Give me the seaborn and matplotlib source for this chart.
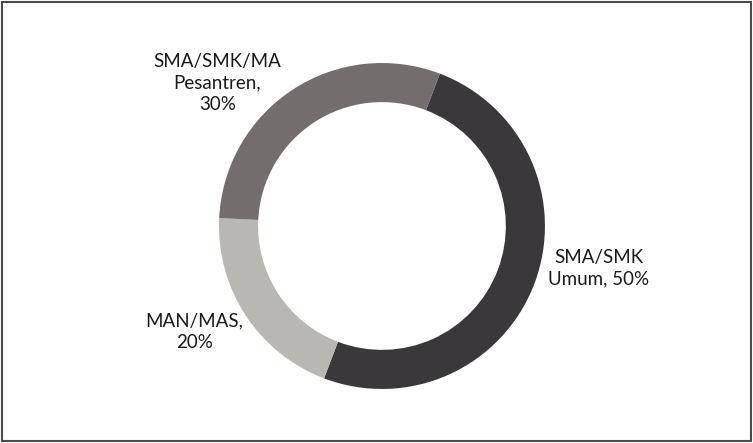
import matplotlib
matplotlib.use('Agg')
import matplotlib.pyplot as plt
from matplotlib.patches import Rectangle
import seaborn as sns

# Data
categories = ['SMA/SMK\nUmum', 'MAN/MAS', 'SMA/SMK/MA\nPesantren']
values = [50, 20, 30]
colors = ['#3b383c', '#b8b7b2', '#736d6d']

sns.set_theme(style='white')
plt.rcParams['font.family'] = ['Lato', 'DejaVu Sans']

fig = plt.figure(figsize=(7.53, 4.43), dpi=100)
ax = fig.add_axes([0.2908, 0.1219, 0.4329, 0.7359])

ax.pie(values, colors=sns.color_palette(colors), startangle=69.2, counterclock=False,
       radius=1.0, wedgeprops=dict(width=0.24, edgecolor='none'))
ax.set_xlim(-1, 1)
ax.set_ylim(-1, 1)
ax.set_aspect('equal')
ax.axis('off')

# Labels placed outside the ring
label_pos = [(1.33, -0.26), (-1.15, -0.65), (-1.01, 0.88)]
for cat, val, (x, y) in zip(categories, values, label_pos):
    if cat.startswith('SMA/SMK\n'):
        txt = f'{cat}, {val}%'
    else:
        txt = f'{cat},\n{val}%'
    ax.text(x, y, txt, ha='center', va='center', fontsize=13.5, color='#1a1a1a',
            linespacing=1.32, clip_on=False)

# Frame around the whole figure
fig.patches.append(Rectangle((0.003, 0.004), 0.994, 0.992, transform=fig.transFigure,
                             fill=False, edgecolor='#4a4a4a', linewidth=1.5))

fig.savefig('out.png', dpi=100)
